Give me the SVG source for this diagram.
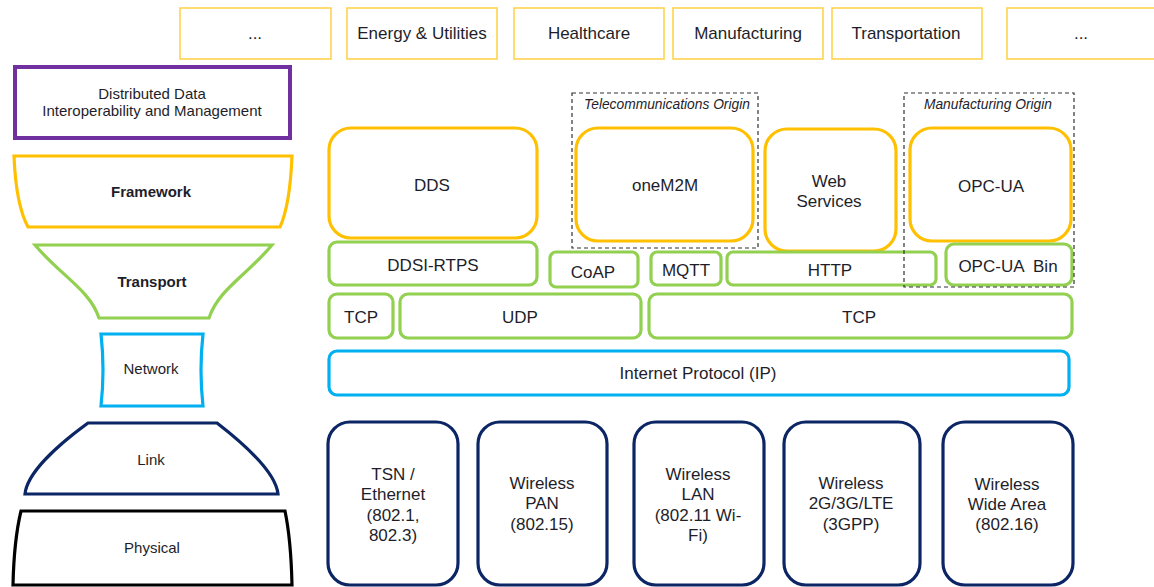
<svg xmlns="http://www.w3.org/2000/svg" width="1154" height="587" viewBox="0 0 1154 587">
<style>
text{font-family:"Liberation Sans",Arial,sans-serif;fill:#1e1e2a;text-anchor:middle}
.t16{font-size:17px}
.t14{font-size:15px}
.b{font-weight:bold}
.it{font-size:13.8px;font-style:italic}
.top{fill:#fff;stroke:#FFD34E;stroke-width:1.6}
.gold{fill:#fff;stroke:#FFC000;stroke-width:3.2}
.green{fill:#fff;stroke:#92D050;stroke-width:3.2}
.blue{fill:#fff;stroke:#00B0F0;stroke-width:3.2}
.navy{fill:#fff;stroke:#0B2565;stroke-width:3.2}
.dash{fill:none;stroke:#333;stroke-width:1.2;stroke-dasharray:4 3}
</style>
<rect width="1154" height="587" fill="#fff"/>
<!-- top industry boxes -->
<g id="ind1"><rect class="top" x="180" y="8" width="151" height="51"/><text class="t16" x="255" y="39">...</text></g>
<g id="ind2"><rect class="top" x="347" y="8" width="150" height="51"/><text class="t16" x="422" y="39">Energy &amp; Utilities</text></g>
<g id="ind3"><rect class="top" x="514" y="8" width="150" height="51"/><text class="t16" x="589" y="39">Healthcare</text></g>
<g id="ind4"><rect class="top" x="673" y="8" width="150" height="51"/><text class="t16" x="748" y="39">Manufacturing</text></g>
<g id="ind5"><rect class="top" x="832" y="8" width="150" height="51"/><text class="t16" x="906" y="39">Transportation</text></g>
<g id="ind6"><rect class="top" x="1007" y="8" width="160" height="51"/><text class="t16" x="1081" y="39">...</text></g>
<!-- left stack -->
<g id="dist"><rect x="15" y="67" width="275" height="71" fill="#fff" stroke="#7030A0" stroke-width="4"/><text class="t14" x="152" y="99">Distributed Data</text><text class="t14" x="152" y="116">Interoperability and Management</text></g>
<g id="framework"><path class="gold" d="M14,156 L292,156 Q290,205 280,227 L28,227 Q16,205 14,156 Z"/><text class="t14 b" x="151" y="197">Framework</text></g>
<g id="transport"><path class="green" d="M35,245 L272,245 C247,275 218,290 209,318 L99,318 C90,290 60,275 35,245 Z"/><text class="t14 b" x="152" y="287">Transport</text></g>
<g id="network"><path class="blue" d="M101,334 L203,334 Q199,370 203,406 L101,406 Q105,370 101,334 Z"/><text class="t14" x="151" y="374">Network</text></g>
<g id="link"><path class="navy" d="M88,423 L217,423 C248,447 276,474 278,494 L25,494 C27,474 55,447 88,423 Z"/><text class="t14" x="151" y="465">Link</text></g>
<g id="physical"><path fill="#fff" stroke="#000" stroke-width="3.2" d="M21,511 L285,511 Q291,540 292,585 L13,585 Q14,540 21,511 Z"/><text class="t14" x="152" y="553">Physical</text></g>
<!-- frameworks -->
<g id="dds"><rect class="gold" x="329" y="128" width="208" height="110" rx="22"/><text class="t16" x="432" y="191">DDS</text></g>
<g id="onem2m"><rect class="gold" x="576" y="128" width="177" height="113" rx="22"/><text class="t16" x="665" y="191">oneM2M</text></g>
<g id="websvc"><rect class="gold" x="765" y="129" width="131" height="122" rx="22"/><text class="t16" x="829" y="187">Web</text><text class="t16" x="829" y="207">Services</text></g>
<g id="opcua"><rect class="gold" x="910" y="128" width="161" height="113" rx="22"/><text class="t16" x="991" y="192">OPC-UA</text></g>
<!-- transport row -->
<g id="ddsi"><rect class="green" x="329" y="242" width="208" height="43" rx="8"/><text class="t16" x="433" y="271">DDSI-RTPS</text></g>
<g id="coap"><rect class="green" x="550" y="252" width="88" height="35" rx="6"/><text class="t16" x="593" y="278">CoAP</text></g>
<g id="mqtt"><rect class="green" x="651" y="252" width="70" height="33" rx="6"/><text class="t16" x="686" y="276">MQTT</text></g>
<g id="http"><rect class="green" x="727" y="252" width="209" height="33" rx="6"/><text class="t16" x="830" y="276">HTTP</text></g>
<g id="opcbin"><rect class="green" x="946" y="244" width="126" height="41" rx="8"/><text class="t16" x="1008" y="272" style="white-space:pre">OPC-UA  Bin</text></g>
<!-- tcp/udp row -->
<g id="tcp1"><rect class="green" x="329" y="294" width="64" height="44" rx="8"/><text class="t16" x="361" y="323">TCP</text></g>
<g id="udp"><rect class="green" x="400" y="294" width="241" height="44" rx="8"/><text class="t16" x="520" y="323">UDP</text></g>
<g id="tcp2"><rect class="green" x="649" y="294" width="423" height="44" rx="8"/><text class="t16" x="859" y="323">TCP</text></g>
<!-- IP -->
<g id="ip"><rect class="blue" x="329" y="351" width="740" height="44" rx="8"/><text class="t16" x="698" y="379">Internet Protocol (IP)</text></g>
<!-- link/physical techs -->
<g id="tsn"><rect class="navy" x="328" y="422" width="130" height="163" rx="22"/><text class="t16" x="393" y="480">TSN /</text><text class="t16" x="393" y="500">Ethernet</text><text class="t16" x="393" y="521">(802.1,</text><text class="t16" x="393" y="541">802.3)</text></g>
<g id="pan"><rect class="navy" x="478" y="422" width="129" height="163" rx="22"/><text class="t16" x="542" y="489">Wireless</text><text class="t16" x="542" y="509">PAN</text><text class="t16" x="542" y="530">(802.15)</text></g>
<g id="lan"><rect class="navy" x="634" y="422" width="130" height="163" rx="22"/><text class="t16" x="698" y="480">Wireless</text><text class="t16" x="698" y="500">LAN</text><text class="t16" x="698" y="521">(802.11 Wi-</text><text class="t16" x="698" y="541">Fi)</text></g>
<g id="cell"><rect class="navy" x="784" y="422" width="136" height="163" rx="22"/><text class="t16" x="851" y="489">Wireless</text><text class="t16" x="851" y="509">2G/3G/LTE</text><text class="t16" x="851" y="530">(3GPP)</text></g>
<g id="wan"><rect class="navy" x="943" y="422" width="130" height="163" rx="22"/><text class="t16" x="1007" y="490">Wireless</text><text class="t16" x="1007" y="510">Wide Area</text><text class="t16" x="1007" y="530">(802.16)</text></g>
<!-- origin groupings -->
<g id="telecom-origin"><rect class="dash" x="572" y="93" width="186" height="155"/><text class="it" x="667" y="109">Telecommunications Origin</text></g>
<g id="mfg-origin"><rect class="dash" x="904" y="93" width="170" height="194"/><text class="it" x="988" y="109">Manufacturing Origin</text></g>
<g id="connectors"></g>
</svg>
